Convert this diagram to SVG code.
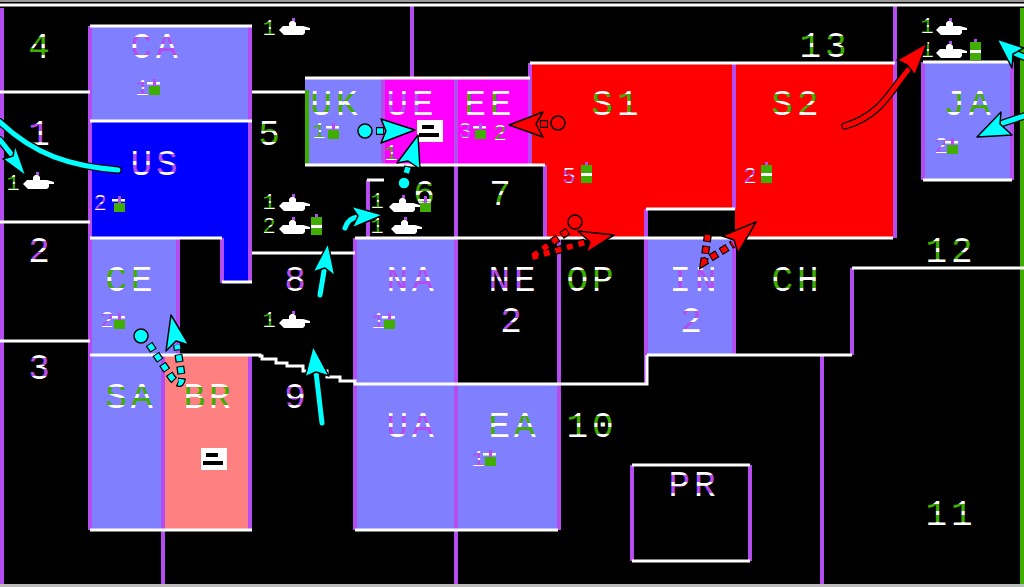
<svg xmlns="http://www.w3.org/2000/svg" width="1024" height="587" viewBox="0 0 1024 587">
<style>
.w{stroke:#fff;stroke-width:3;fill:none}
.p{stroke:#b44cf0;stroke-width:4;fill:none}
.g{stroke:#3fae00;stroke-width:4;fill:none}
.b{fill:#8080ff}
text{font-family:"Liberation Mono","DejaVu Sans Mono",monospace;text-anchor:middle}
.l{font-size:36px;fill:url(#tp)}
.lg{font-size:36px;fill:url(#tg)}
.ls{letter-spacing:4px}
.s{font-size:22px;fill:url(#tg)}
.sp{font-size:22px;fill:url(#tp)}
.ca{fill:#00ffff;stroke:#000;stroke-width:1.5;stroke-linejoin:round}
.ct{fill:none;stroke:#000;stroke-width:7.5;stroke-linecap:round}
.cl{fill:none;stroke:#00ffff;stroke-width:5;stroke-linecap:round}
.db{fill:none;stroke:#000;stroke-width:8;stroke-dasharray:8 4}
.cf{fill:none;stroke:#00ffff;stroke-width:5.5;stroke-dasharray:6 6;stroke-dashoffset:-1}
.ra{fill:#f00;stroke:#000;stroke-width:1.5;stroke-linejoin:round}
.rl{fill:none;stroke:#f00;stroke-width:5;stroke-linecap:round}
.rf{fill:none;stroke:#f00;stroke-width:5.5;stroke-dasharray:6 6;stroke-dashoffset:-1}
.rc{fill:none;stroke:#000;stroke-width:1.5}
</style>
<defs>
<linearGradient id="tp" x1="0" y1="0" x2="0" y2="1">
<stop offset="0" stop-color="#fff"/><stop offset=".21" stop-color="#fff"/><stop offset=".21" stop-color="#b44cf0"/><stop offset=".4" stop-color="#b44cf0"/><stop offset=".4" stop-color="#fff"/><stop offset=".48" stop-color="#fff"/><stop offset=".48" stop-color="#b44cf0"/><stop offset=".665" stop-color="#b44cf0"/><stop offset=".665" stop-color="#fff"/><stop offset="1" stop-color="#fff"/>
</linearGradient>
<linearGradient id="tg" x1="0" y1="0" x2="0" y2="1">
<stop offset="0" stop-color="#fff"/><stop offset=".21" stop-color="#fff"/><stop offset=".21" stop-color="#3fae00"/><stop offset=".4" stop-color="#3fae00"/><stop offset=".4" stop-color="#fff"/><stop offset=".48" stop-color="#fff"/><stop offset=".48" stop-color="#3fae00"/><stop offset=".665" stop-color="#3fae00"/><stop offset=".665" stop-color="#fff"/><stop offset="1" stop-color="#fff"/>
</linearGradient>
<symbol id="tank" overflow="visible"><path d="M-14 1l4-4h6v-3l2-2h3l2 2v3h7l7 2v2h-5v3l-2 2h-19l-3-3z" fill="#fff"/><rect x="-1" y="-11" width="3" height="3" fill="#b44cf0"/></symbol>
<symbol id="inf" overflow="visible"><rect x="-6" y="-1" width="11" height="9" fill="#3fae00"/><rect x="-8" y="-5" width="13" height="2.5" fill="#fff"/><rect x="-2" y="-8" width="3" height="7" fill="#b44cf0"/></symbol>
<symbol id="fac" overflow="visible"><rect x="-6" y="-8" width="11" height="18" fill="#3fae00"/><rect x="-6" y="0" width="11" height="3" fill="#fff"/><rect x="-2" y="-11" width="3" height="3" fill="#b44cf0"/></symbol>
<symbol id="blk" overflow="visible"><rect x="-13" y="-11" width="26" height="22" fill="#fff"/><rect x="-8" y="-6" width="12" height="4" fill="#000"/><rect x="-11" y="2" width="20" height="4" fill="#000"/></symbol>
</defs>
<rect width="1024" height="587" fill="#000"/>
<rect width="1024" height="2" fill="#999"/>
<g id="fills">
<rect class="b" x="90" y="26" width="162" height="95"/>
<path fill="#0000ff" d="M90 121H252V283H222V239H90z"/>
<rect class="b" x="90" y="239" width="88" height="116"/>
<rect class="b" x="90" y="355" width="73" height="175"/>
<rect fill="#ff8080" x="163" y="355" width="89" height="175"/>
<rect class="b" x="305" y="78" width="78" height="87"/>
<rect fill="#ff00ff" x="383" y="78" width="147" height="87"/>
<path fill="#f00" d="M530 63H893V238H735V209H646V238H545V165H530z"/>
<rect class="b" x="355" y="238" width="101" height="146"/>
<rect class="b" x="355" y="384" width="101" height="146"/>
<rect class="b" x="456" y="384" width="103" height="146"/>
<rect class="b" x="646" y="238" width="88" height="117"/>
<rect class="b" x="923" y="62" width="89" height="118"/>
</g>
<g id="borders">
<path class="p" d="M2 8V587M90 26V530M250 26V283M250 355V530M178 238V355M163 355V587M222 238V283M412 5V78M383 78V165M456 78V165M368 180V238M530 63V165M545 165V238M456 165V587M355 238V530M559 238V530M646 209V384M734 63V209M734 238V355M852 268V355M895 5V238M822 355V587M632 465V561M750 465V561M923 62V180M1012 62V180"/>
<path class="g" d="M1022 8V584M307 90V165"/>
<path class="w" d="M0 5H1024M90 26H252M0 92H90M252 92H305M90 121H252M0 222H90M90 238H222M222 282H252M0 341H90M90 355H260V356H262V359H276V363H287V366H303V371H327V377H340V381H355V384H647V355M647 355H852M252 253H355M355 238H893M305 78H530M305 165H545M367 180H384M530 63H895M646 209H735M852 268H1024M923 62H1012M923 180H1012M90 530H252M355 530H558M632 465H750M632 561H750"/>
<path d="M0 585.500H1024" stroke="#bbb" stroke-width="3" fill="none"/>
</g>
<g id="n4"><text class="lg" x="39" y="58">4</text></g>
<g id="n1"><text class="l" x="39" y="145">1</text></g>
<g id="n2"><text class="l" x="39" y="262">2</text></g>
<g id="n3"><text class="l" x="39" y="379">3</text></g>
<g id="CA"><text class="l ls" x="156" y="58">CA</text><text class="sp" x="142" y="95">1</text><use href="#inf" x="155" y="87"/></g>
<g id="US"><text class="l ls" x="156" y="175">US</text><text class="sp" x="100" y="210">2</text><use href="#inf" x="120" y="204"/></g>
<g id="CE"><text class="lg ls" x="131" y="291">CE</text><text class="sp" x="107" y="327">2</text><use href="#inf" x="120" y="321"/></g>
<g id="SA"><text class="lg ls" x="131" y="408">SA</text></g>
<g id="BR"><text class="lg ls" x="209" y="408">BR</text><use href="#blk" x="214" y="459"/></g>
<g id="n5"><text class="lg" x="269" y="145">5</text></g>
<g id="n8"><text class="l" x="295" y="291">8</text><text class="s" x="269" y="327">1</text><use href="#tank" x="293" y="322"/></g>
<g id="n9"><text class="l" x="295" y="408">9</text></g>
<g id="UK"><text class="lg ls" x="336" y="115">UK</text><text class="s" x="319" y="138">1</text><use href="#inf" x="334" y="131"/></g>
<g id="UE"><text class="l ls" x="412" y="115">UE</text><text class="s" x="391" y="160">1</text><use href="#blk" x="430" y="131"/></g>
<g id="EE"><text class="lg ls" x="490" y="115">EE</text><text class="sp" x="465" y="138">3</text><use href="#inf" x="481" y="131"/><text class="s" x="500" y="140">2</text></g>
<g id="S1"><text class="lg ls" x="617" y="115">S1</text><text class="sp" x="569" y="183">5</text><use href="#fac" x="587" y="173"/></g>
<g id="S2"><text class="lg ls" x="797" y="115">S2</text><text class="sp" x="750" y="183">2</text><use href="#fac" x="767" y="173"/></g>
<g id="n13"><text class="lg ls" x="825" y="57">13</text></g>
<g id="n6"><text class="lg" x="424" y="205">6</text><use href="#inf" x="426" y="204"/><text class="s" x="377" y="208">1</text><use href="#tank" x="403" y="206"/><text class="s" x="377" y="233">1</text><use href="#tank" x="405" y="228"/></g>
<g id="n7"><text class="lg" x="500" y="205">7</text></g>
<g id="NA"><text class="l ls" x="412" y="291">NA</text><text class="sp" x="378" y="328">1</text><use href="#inf" x="390" y="321"/></g>
<g id="NE"><text class="l ls" x="514" y="291">NE</text><text class="sp" x="511" y="332" style="font-size:36px">2</text></g>
<g id="OP"><text class="lg ls" x="592" y="291">OP</text></g>
<g id="IN"><text class="l ls" x="695" y="291">IN</text><text class="sp" x="691" y="332" style="font-size:36px">2</text></g>
<g id="CH"><text class="lg ls" x="797" y="291">CH</text></g>
<g id="UA"><text class="l ls" x="412" y="437">UA</text></g>
<g id="EA"><text class="lg ls" x="514" y="437">EA</text><text class="sp" x="478" y="466">1</text><use href="#inf" x="491" y="458"/></g>
<g id="n10"><text class="lg ls" x="592" y="437">10</text></g>
<g id="PR"><text class="l ls" x="694" y="496">PR</text></g>
<g id="n11"><text class="lg ls" x="951" y="525">11</text></g>
<g id="n12"><text class="lg ls" x="951" y="262">12</text></g>
<g id="JA"><text class="lg ls" x="969" y="115">JA</text><text class="sp" x="941" y="153">2</text><use href="#inf" x="953" y="146"/></g>
<g id="units">
<text class="s" x="269" y="35">1</text><use href="#tank" x="293" y="29"/>
<text class="s" x="269" y="209">1</text><use href="#tank" x="293" y="205"/>
<text class="s" x="269" y="233">2</text><use href="#tank" x="293" y="228"/><use href="#fac" x="317" y="225"/>
<text class="s" x="13" y="190">1</text><use href="#tank" x="37" y="183"/>
<text class="s" x="927" y="33">1</text><use href="#tank" x="950" y="29"/>
<text class="s" x="927" y="57">1</text><use href="#tank" x="950" y="52"/><use href="#fac" x="976" y="50"/>
</g>
<g id="connectors">
<path class="ct" d="M118 170C70 166 35 155 0 122"/><path class="cl" d="M118 170C70 166 35 155 0 122"/>
<path class="ct" d="M0 140L16 160"/><path class="cl" d="M0 140L16 160"/><path class="ca" d="M26 176L3 159L13 156L15 145z"/>
<path class="ct" d="M1024 116L1000 124"/><path class="cl" d="M1024 116L1000 124"/><path class="ca" d="M977 137L1001 112L1000 124L1012 135z"/>
<path class="ct" d="M1024 57L1012 52"/><path class="cl" d="M1024 57L1012 52"/><path class="ca" d="M997 39L1024 48L1013 54L1012 68z"/>
<path class="db" d="M376 131H388"/><path class="cf" d="M376 131H388"/><circle cx="365" cy="131" r="7" class="ca"/><path class="ca" d="M415 130L381 119L386 131L381 143z"/>
<path class="db" d="M406 174L409 164"/><path class="cf" d="M406 174L409 164"/><circle cx="404" cy="183" r="6" class="ca"/><path class="ca" d="M418 135L397 163L408 161L420 169z"/>
<path class="ct" d="M345 228Q348 218 358 217"/><path class="cl" d="M345 228Q348 218 358 217"/><path class="ca" d="M383 215L351 206L358 216L352 228z"/>
<path class="ct" d="M320 295L325 265"/><path class="cl" d="M320 295L325 265"/><path class="ca" d="M328 243L313 272L325 268L335 276z"/>
<path class="ct" d="M322 423L316 372"/><path class="cl" d="M322 423L316 372"/><path class="ca" d="M313 346L305 377L316 372L329 376z"/>
<path class="db" d="M149 344L172 378Q181 388 182 378L177 345"/><path class="cf" d="M149 344L172 378Q181 388 182 378L177 345"/><circle cx="141" cy="336" r="7" class="ca"/><path class="ca" d="M171 315L166 351L176 341L189 345z"/>
<path class="db" d="M548 124H536"/><path class="rf" d="M548 124H536"/><circle cx="558" cy="123" r="7" class="rc"/><path class="ra" d="M509 125L543 112L536 124L543 137z"/>
<path class="db" d="M568 231L530 258L590 241"/><path class="rf" d="M568 231L530 258L590 241"/><circle cx="575" cy="222" r="7" class="rc"/><path class="ra" d="M614 235L578 231L590 242L586 253z"/>
<path class="db" d="M708 234L704 262L733 244"/><path class="rf" d="M708 234L704 262L733 244"/><circle cx="711" cy="223" r="7" class="rc"/><path class="ra" d="M756 222L722 236L734 240L738 253z"/>
<path class="ct" d="M845 126C880 116 890 92 908 70"/><path class="rl" d="M845 126C880 116 890 92 908 70"/><path class="ra" d="M927 43L897 60L907 65L915 75z"/>
</g>
</svg>
